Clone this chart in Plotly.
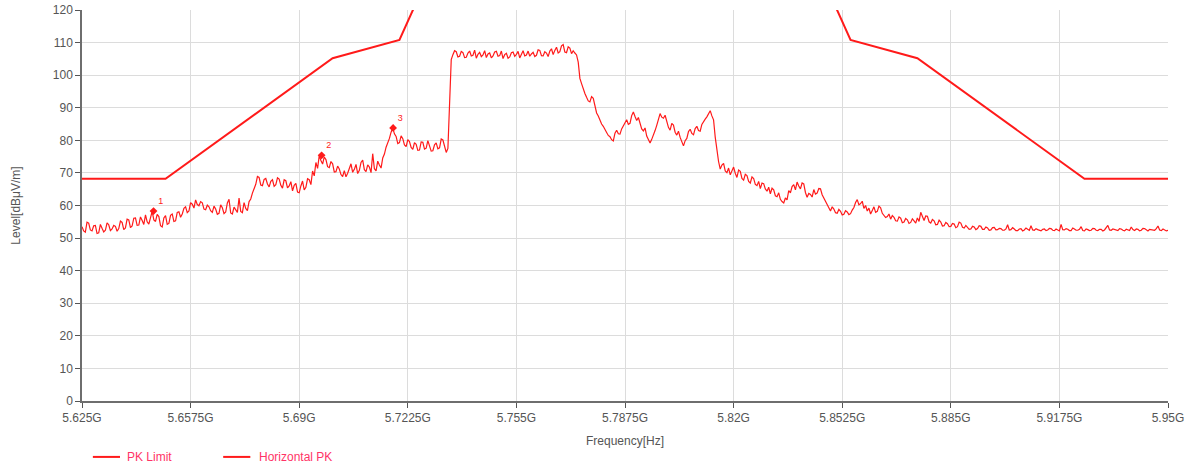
import plotly.graph_objects as go

# ---- data ----
limit_freq_ghz = [5.625, 5.650, 5.700, 5.720, 5.725, 5.850, 5.855, 5.875, 5.925, 5.950]
limit_level = [68.2, 68.2, 105.2, 110.8, 122.2, 122.2, 110.8, 105.2, 68.2, 68.2]

trace_start_ghz = 5.625
trace_step_ghz = 0.0005
horizontal_pk = [
    53.5, 52.2, 51.8, 54.9, 54.6, 52.5, 52.2, 53.8, 53.9, 51.4,
    51.6, 54.2, 53.0, 51.9, 52.4, 54.7, 54.1, 52.3, 52.8, 53.9,
    53.6, 52.1, 52.9, 55.2, 54.8, 52.6, 53.1, 55.8, 55.6, 53.2,
    53.7, 56.1, 56.2, 53.9, 54.0, 56.5, 55.4, 54.2, 57.1, 55.0,
    54.3, 56.8, 58.2, 55.6, 55.1, 57.3, 56.6, 53.8, 53.4, 56.2,
    56.9, 54.2, 54.5, 57.0, 57.4, 55.1, 55.3, 57.9, 58.1, 56.4,
    57.4, 59.1, 59.6, 57.8, 58.3, 60.9, 60.4, 59.2, 61.7, 60.3,
    59.9, 61.2, 60.8, 58.9, 58.7, 60.1, 59.6, 58.4, 57.9, 59.8,
    58.9, 57.3, 57.6, 60.2, 59.3, 57.5, 58.0, 60.8, 61.9, 57.7,
    57.4, 59.5, 58.6, 57.9, 62.3, 58.2, 57.8, 60.9, 59.1, 58.4,
    61.2, 62.0, 63.8, 65.1, 66.5, 68.9, 68.6, 66.3, 66.1, 68.0,
    68.3, 66.6, 65.7, 67.4, 67.9, 65.9, 66.4, 68.5, 68.1, 66.2,
    65.3, 67.9, 67.6, 65.4, 66.0, 67.3, 64.5, 66.2, 66.8, 64.1,
    63.9, 66.0, 67.5, 64.8, 65.6, 68.2, 67.9, 66.4, 70.6, 69.1,
    73.2, 71.4, 75.3, 73.8, 72.7, 74.9, 74.1, 71.9, 71.6, 73.5,
    72.8, 70.3, 70.4, 72.1, 71.2, 69.5, 68.9, 70.7, 68.8, 69.9,
    71.5, 72.8, 70.2, 71.1, 72.6, 69.8, 70.8, 73.2, 73.9, 71.0,
    70.4, 72.5, 71.8, 70.1, 75.9, 71.3, 70.6, 73.6, 72.4, 71.5,
    74.6, 75.8, 77.9, 79.1, 80.6, 82.5, 83.8, 82.0, 81.2, 79.0,
    79.3, 81.4, 80.5, 78.6, 78.1, 80.2, 79.6, 77.8, 77.2, 79.3,
    78.8, 76.9, 77.0, 79.5, 79.4, 77.3, 77.6, 79.9, 78.5, 76.7,
    76.8, 78.6, 79.2, 77.4, 77.7, 80.4, 80.1, 77.9, 76.3, 77.5,
    92.4, 104.8, 106.3, 107.5, 107.2, 105.6, 105.8, 107.3, 106.9, 105.4,
    105.5, 106.8, 107.4, 105.9, 106.1, 107.7, 105.2, 106.4, 107.0, 105.7,
    106.2, 107.5, 105.4, 106.5, 106.8, 105.3, 105.9, 107.1, 107.3, 105.8,
    106.0, 107.4, 105.1, 106.3, 106.7, 105.2, 105.6, 106.9, 107.1, 105.8,
    106.4, 107.3, 105.3, 106.6, 107.5, 105.9, 106.2, 107.4, 105.8, 106.5,
    107.0, 105.7, 106.1, 107.8, 107.6, 106.0, 105.9, 107.2, 106.8, 105.7,
    107.4, 108.1, 106.3, 107.6, 108.6, 106.8, 107.2, 109.0, 109.4, 107.1,
    106.9, 108.7, 108.3, 106.6, 107.5, 106.8, 106.2, 104.0, 99.0, 97.4,
    95.6, 94.4, 93.2, 92.1, 91.8, 93.4, 92.9, 90.2, 88.4, 87.5,
    86.1, 85.0, 84.3, 83.1, 82.4, 81.5, 81.1, 80.2, 79.8, 82.2,
    83.1, 82.0, 81.9, 83.5, 84.6, 85.7, 86.3, 84.9, 85.2, 87.6,
    88.7, 87.3, 86.1, 87.0, 84.8, 83.5, 82.9, 83.8, 81.3, 80.0,
    79.2, 80.3, 81.4, 83.0, 84.6, 86.5, 88.2, 87.1, 86.8, 87.7,
    85.4, 84.0, 83.1, 85.2, 84.7, 82.5, 81.6, 82.8, 80.9, 79.5,
    78.3, 79.9, 80.6, 82.7, 83.4, 82.1, 81.7, 83.6, 84.3, 83.0,
    82.8, 84.9, 85.9, 86.5, 87.2, 88.4, 89.1, 87.5, 86.3, 81.0,
    76.8, 73.5, 71.2, 72.4, 72.9, 70.6, 70.1, 71.5, 69.4, 70.8,
    71.8, 69.9, 68.6, 70.9, 70.5, 68.3, 67.8, 69.6, 69.2, 67.4,
    66.9, 68.8, 68.3, 66.5, 66.1, 67.4, 65.2, 66.9, 66.7, 65.1,
    64.4, 65.6, 63.6, 65.3, 64.8, 63.0, 62.7, 63.9, 61.9, 61.2,
    60.8, 62.3, 61.7, 64.6, 63.9, 65.8, 66.4, 64.8, 67.2, 66.0,
    65.1, 66.9, 66.6, 64.0, 62.5, 63.7, 63.4, 62.6, 64.9, 63.5,
    63.8, 65.2, 65.1, 63.3, 62.2, 61.5, 60.4, 59.2, 58.3, 59.6,
    58.9, 57.8, 57.6, 58.8, 58.2, 57.1, 57.3, 58.4, 58.0, 57.2,
    57.5, 58.6, 59.4, 60.9, 61.8, 60.2, 60.6, 61.3, 59.1, 60.0,
    58.3, 59.2, 57.4, 58.5, 59.6, 57.9, 58.2, 59.8, 59.3, 57.6,
    57.1, 56.3, 56.6, 57.4, 55.8, 56.9, 56.4, 55.3, 55.2, 56.5,
    56.1, 54.7, 54.9, 56.0, 55.6, 54.5, 54.8, 55.9, 55.3, 54.6,
    56.2, 55.1, 57.9, 56.3, 55.4, 56.8, 56.7, 55.0, 54.6, 55.7,
    55.3, 54.1, 54.2, 55.5, 54.9, 53.7, 53.8, 54.8, 54.4, 53.5,
    53.6, 54.5, 54.3, 53.2, 53.5, 54.9, 54.6, 53.3, 53.1, 53.9,
    53.3, 52.7, 52.8, 53.6, 53.4, 52.6, 52.9, 53.8, 53.6, 52.7,
    52.7, 53.4, 53.1, 52.4, 52.5, 53.2, 53.3, 52.5, 52.6, 53.0,
    52.9, 52.4, 52.4, 52.8, 54.1, 52.5, 52.6, 53.2, 52.8, 52.3,
    52.3, 52.8, 52.9, 52.2, 52.5, 53.1, 52.7, 52.4, 53.8, 52.5,
    52.4, 52.9, 52.6, 52.3, 52.2, 52.7, 52.8, 52.3, 52.5, 53.0,
    52.9, 52.4, 52.3, 52.8, 52.6, 52.2, 54.2, 52.6, 52.5, 52.9,
    52.7, 52.3, 52.3, 53.1, 52.8, 52.4, 52.4, 52.7, 53.5, 52.3,
    52.2, 52.8, 52.6, 52.3, 52.4, 53.0, 52.9, 52.4, 52.3, 52.7,
    52.7, 52.2, 52.5, 53.2, 53.9, 52.5, 52.4, 52.8, 52.6, 52.3,
    52.3, 52.9, 52.8, 52.4, 52.2, 52.7, 52.6, 52.3, 53.4, 52.6,
    52.3, 52.8, 52.7, 52.2, 52.4, 53.0, 52.9, 52.4, 52.2, 52.7,
    52.6, 52.3, 52.4, 52.9, 53.7, 52.5, 52.3, 52.8, 52.5, 52.2,
    52.4,
]
trace_freq_ghz = [round(trace_start_ghz + i * trace_step_ghz, 5) for i in range(len(horizontal_pk))]

marker_labels = ["1", "2", "3"]
marker_freq_ghz = [5.6464, 5.6967, 5.7181]
marker_level = [58.3, 75.4, 83.8]

series_names = ["PK Limit", "Horizontal PK"]

x_tick_vals = [5.625, 5.6575, 5.69, 5.7225, 5.755, 5.7875, 5.82, 5.8525, 5.885, 5.9175, 5.95]
x_tick_text = ["5.625G", "5.6575G", "5.69G", "5.7225G", "5.755G", "5.7875G",
               "5.82G", "5.8525G", "5.885G", "5.9175G", "5.95G"]
y_tick_vals = list(range(0, 121, 10))

# ---- figure ----
RED = "#ff1a1a"
LEGEND_TEXT = "#ff3366"
fig = go.Figure()
fig.add_trace(go.Scatter(x=limit_freq_ghz, y=limit_level, mode="lines", name=series_names[0],
                         line=dict(color=RED, width=2)))
fig.add_trace(go.Scatter(x=trace_freq_ghz, y=horizontal_pk, mode="lines", name=series_names[1],
                         line=dict(color=RED, width=1.2)))
fig.add_trace(go.Scatter(x=marker_freq_ghz, y=marker_level, mode="markers+text",
                         text=marker_labels, textposition="top right",
                         textfont=dict(size=9, color=RED, family="Liberation Sans"),
                         marker=dict(symbol="diamond", size=6, color=RED),
                         showlegend=False, cliponaxis=False))

# legend drawn below the plot (a plotly legend here would push the bottom margin)
legend_y = -0.143
legend_items = [(0.010, 0.035, 0.040), (0.130, 0.155, 0.161)]
for name, (x0, x1, xt) in zip(series_names, legend_items):
    fig.add_shape(type="line", xref="paper", yref="paper", x0=x0, x1=x1, y0=legend_y, y1=legend_y,
                  line=dict(color=RED, width=2))
    fig.add_annotation(xref="paper", yref="paper", x=xt, y=legend_y, text=name, showarrow=False,
                       xanchor="left", yanchor="middle", font=dict(color=LEGEND_TEXT, size=12))

fig.update_layout(
    width=1192, height=466,
    margin=dict(l=82, r=24, t=10, b=65),
    paper_bgcolor="white", plot_bgcolor="white",
    font=dict(family="Liberation Sans, Arial", size=12, color="#555555"),
    showlegend=False,
    xaxis=dict(range=[5.625, 5.95], tickvals=x_tick_vals, ticktext=x_tick_text,
               showgrid=True, gridcolor="#dcdcdc", gridwidth=1,
               showline=True, linecolor="#6e6e6e", linewidth=1.5,
               ticks="outside", ticklen=5, tickcolor="#555555",
               zeroline=False, automargin=False, ticklabeloverflow="allow",
               title=dict(text="Frequency[Hz]", standoff=12, font=dict(size=12, color="#555555"))),
    yaxis=dict(range=[0, 120], tickvals=y_tick_vals,
               showgrid=True, gridcolor="#dcdcdc", gridwidth=1,
               showline=True, linecolor="#6e6e6e", linewidth=1.5,
               ticks="outside", ticklen=5, tickcolor="#555555",
               zeroline=False, automargin=False, ticklabeloverflow="allow",
               title=dict(text="Level[dBμV/m]", standoff=30, font=dict(size=12, color="#555555"))),
)

fig.write_html("out.html", post_script="document.body.style.margin='0px';",
               config={"displayModeBar": False})
